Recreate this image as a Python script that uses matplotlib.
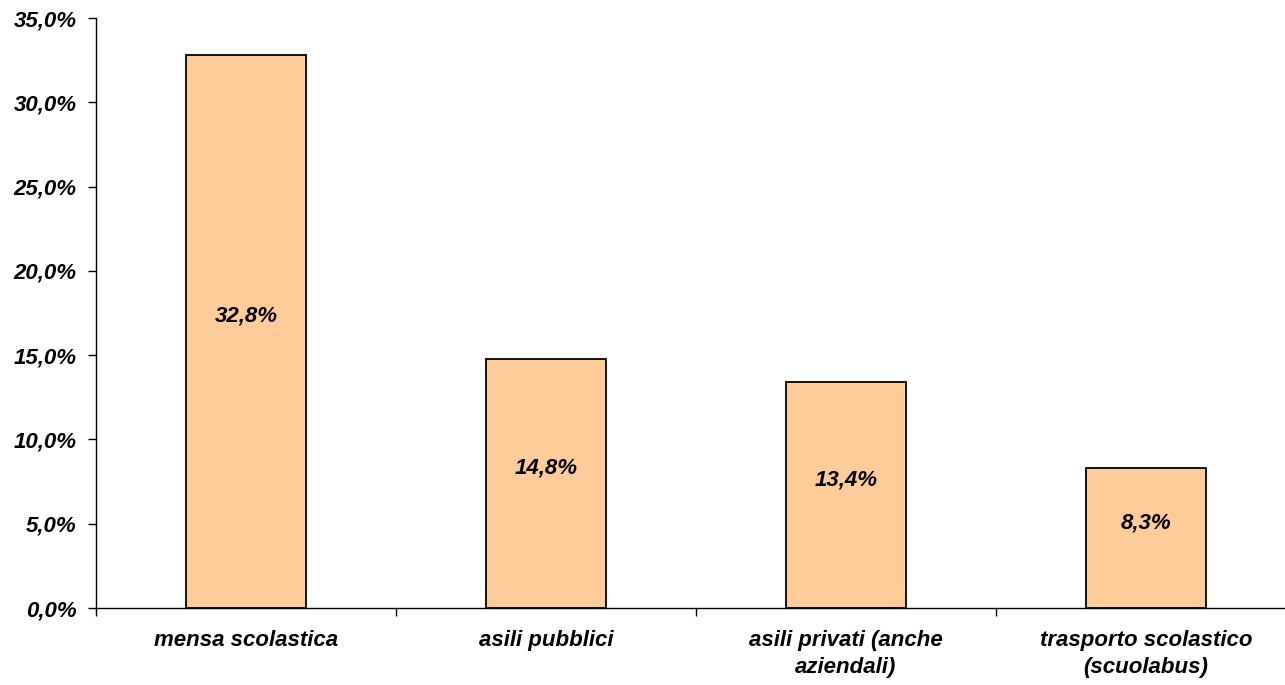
import numpy as np
import matplotlib.pyplot as plt
from matplotlib.ticker import FuncFormatter, FixedLocator

# data
categories = ["mensa scolastica", "asili pubblici", "asili privati (anche\naziendali)",
              "trasporto scolastico\n(scuolabus)"]
values = [32.8, 14.8, 13.4, 8.3]

plt.rcParams['font.family'] = ['Liberation Sans', 'DejaVu Sans']
font = dict(fontsize=16, fontweight='bold', fontstyle='italic')

fig = plt.figure(figsize=(12.85, 6.85), dpi=100)
ax = fig.add_axes([96 / 1285, 1 - 608 / 685, 1200 / 1285, 590 / 685])

x = np.arange(len(categories))
ax.bar(x, values, width=0.4, color="#FFCC99", edgecolor="black", linewidth=1.3, zorder=2)

for xi, v in zip(x, values):
    lbl = "{:.1f}%".format(v).replace(".", ",")
    ax.annotate(lbl, (xi, v / 2), xytext=(0, 11), textcoords="offset points",
                ha="center", va="center", **font)

ax.set_xlim(-0.5, 3.5)
ax.set_ylim(0, 35)
ax.set_yticks(np.arange(0, 36, 5))
ax.yaxis.set_major_formatter(FuncFormatter(lambda v, p: "{:.1f}%".format(v).replace(".", ",")))
ax.set_xticks(x)
ax.set_xticklabels(categories, linespacing=1.35, **font)
ax.xaxis.set_minor_locator(FixedLocator([-0.5, 0.5, 1.5, 2.5, 3.5]))
ax.tick_params(axis="x", which="major", length=0, pad=16)
ax.tick_params(axis="x", which="minor", length=6, width=1, direction="out")
ax.tick_params(axis="y", length=6, width=1, direction="out", pad=8)
for t in ax.get_yticklabels():
    t.set_fontsize(16)
    t.set_fontweight("bold")
    t.set_fontstyle("italic")

for s in ["top", "right"]:
    ax.spines[s].set_visible(False)
for s in ["left", "bottom"]:
    ax.spines[s].set_linewidth(1)

fig.savefig("out.png", dpi=100)
